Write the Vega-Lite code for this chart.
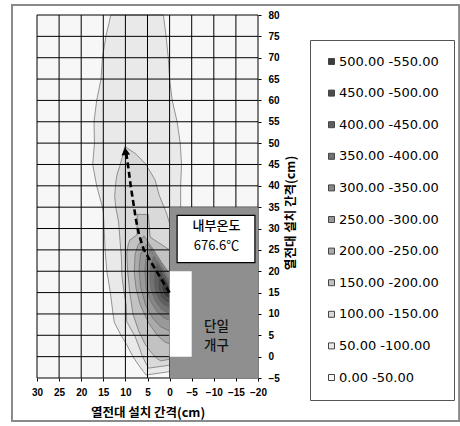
{
  "$schema": "https://vega.github.io/schema/vega-lite/v6.json",
  "width": 221,
  "height": 363,
  "autosize": {"type": "none"},
  "padding": {"left": 37, "top": 15, "right": 202, "bottom": 48},
  "background": "white",
  "config": {
    "view": {"stroke": null, "fill": "#f7f7f7"},
    "font": "Liberation Sans"
  },
  "resolve": {"axis": {"x": "independent", "y": "independent"}},
  "datasets": {
    "contours": [
      {"band": "50.00 -100.00", "y": -4.3, "xl": 5.3, "xr": 5.3},
      {"band": "50.00 -100.00", "y": -3.5, "xl": 5.9, "xr": 0},
      {"band": "50.00 -100.00", "y": -3.4, "xl": 6.0, "xr": -1},
      {"band": "50.00 -100.00", "y": -2, "xl": 7.0, "xr": -1},
      {"band": "50.00 -100.00", "y": 0, "xl": 8.3, "xr": -1},
      {"band": "50.00 -100.00", "y": 3, "xl": 9.8, "xr": -1},
      {"band": "50.00 -100.00", "y": 5, "xl": 11.0, "xr": -1},
      {"band": "50.00 -100.00", "y": 8, "xl": 12.5, "xr": -1},
      {"band": "50.00 -100.00", "y": 10, "xl": 12.8, "xr": -1},
      {"band": "50.00 -100.00", "y": 15, "xl": 13.4, "xr": -1},
      {"band": "50.00 -100.00", "y": 20, "xl": 14.2, "xr": -1},
      {"band": "50.00 -100.00", "y": 25, "xl": 14.6, "xr": -1},
      {"band": "50.00 -100.00", "y": 30, "xl": 14.8, "xr": -1},
      {"band": "50.00 -100.00", "y": 34, "xl": 15.0, "xr": -1},
      {"band": "50.00 -100.00", "y": 35, "xl": 15.2, "xr": -2.5},
      {"band": "50.00 -100.00", "y": 40, "xl": 16.5, "xr": -2.5},
      {"band": "50.00 -100.00", "y": 45, "xl": 17.4, "xr": -2.7},
      {"band": "50.00 -100.00", "y": 50, "xl": 17.0, "xr": -2.4},
      {"band": "50.00 -100.00", "y": 55, "xl": 17.1, "xr": -1.7},
      {"band": "50.00 -100.00", "y": 60, "xl": 16.5, "xr": -0.6},
      {"band": "50.00 -100.00", "y": 65, "xl": 15.5, "xr": 0},
      {"band": "50.00 -100.00", "y": 70, "xl": 15.2, "xr": 0.3},
      {"band": "50.00 -100.00", "y": 75, "xl": 14.4, "xr": 0.8},
      {"band": "50.00 -100.00", "y": 80, "xl": 13.3, "xr": 1.4},

      {"band": "100.00 -150.00", "y": -2.7, "xl": 4.8, "xr": 4.8},
      {"band": "100.00 -150.00", "y": -2.0, "xl": 5.1, "xr": 0},
      {"band": "100.00 -150.00", "y": -1.9, "xl": 5.2, "xr": -1},
      {"band": "100.00 -150.00", "y": 0.4, "xl": 6.3, "xr": -1},
      {"band": "100.00 -150.00", "y": 2, "xl": 6.8, "xr": -1},
      {"band": "100.00 -150.00", "y": 4.7, "xl": 7.8, "xr": -1},
      {"band": "100.00 -150.00", "y": 8.2, "xl": 9.7, "xr": -1},
      {"band": "100.00 -150.00", "y": 12, "xl": 9.8, "xr": -1},
      {"band": "100.00 -150.00", "y": 15, "xl": 10.3, "xr": -1},
      {"band": "100.00 -150.00", "y": 19, "xl": 10.8, "xr": -1},
      {"band": "100.00 -150.00", "y": 23, "xl": 10.9, "xr": -1},
      {"band": "100.00 -150.00", "y": 27, "xl": 11.2, "xr": -1},
      {"band": "100.00 -150.00", "y": 31, "xl": 11.5, "xr": -1},
      {"band": "100.00 -150.00", "y": 31.2, "xl": 11.5, "xr": 0},
      {"band": "100.00 -150.00", "y": 33.6, "xl": 11.9, "xr": 0.7},
      {"band": "100.00 -150.00", "y": 35, "xl": 12.2, "xr": 1.25},
      {"band": "100.00 -150.00", "y": 37.4, "xl": 12.4, "xr": 2.2},
      {"band": "100.00 -150.00", "y": 38, "xl": 12.4, "xr": 2.4},
      {"band": "100.00 -150.00", "y": 41.4, "xl": 12.1, "xr": 3.3},
      {"band": "100.00 -150.00", "y": 43, "xl": 11.8, "xr": 4.2},
      {"band": "100.00 -150.00", "y": 44.5, "xl": 11.3, "xr": 5.1},
      {"band": "100.00 -150.00", "y": 45.3, "xl": 11.1, "xr": 5.6},
      {"band": "100.00 -150.00", "y": 47, "xl": 10.6, "xr": 7.2},
      {"band": "100.00 -150.00", "y": 47.6, "xl": 10.5, "xr": 7.8},
      {"band": "100.00 -150.00", "y": 49.2, "xl": 10.1, "xr": 10.1},

      {"band": "150.00 -200.00", "y": -1, "xl": 2.0, "xr": 2.0},
      {"band": "150.00 -200.00", "y": -0.6, "xl": 2.6, "xr": 0},
      {"band": "150.00 -200.00", "y": -0.5, "xl": 2.8, "xr": -1},
      {"band": "150.00 -200.00", "y": 1, "xl": 4.2, "xr": -1},
      {"band": "150.00 -200.00", "y": 3, "xl": 5.6, "xr": -1},
      {"band": "150.00 -200.00", "y": 6, "xl": 7.0, "xr": -1},
      {"band": "150.00 -200.00", "y": 10, "xl": 8.3, "xr": -1},
      {"band": "150.00 -200.00", "y": 15, "xl": 9.0, "xr": -1},
      {"band": "150.00 -200.00", "y": 20, "xl": 9.5, "xr": -1},
      {"band": "150.00 -200.00", "y": 24.2, "xl": 9.7, "xr": -1},
      {"band": "150.00 -200.00", "y": 24.8, "xl": 9.6, "xr": -1},
      {"band": "150.00 -200.00", "y": 25, "xl": 9.6, "xr": 0},
      {"band": "150.00 -200.00", "y": 26.5, "xl": 9.3, "xr": 2.2},
      {"band": "150.00 -200.00", "y": 27.3, "xl": 9.0, "xr": 3.4},
      {"band": "150.00 -200.00", "y": 28, "xl": 8.1, "xr": 4.4},
      {"band": "150.00 -200.00", "y": 28.5, "xl": 7.4, "xr": 4.45},
      {"band": "150.00 -200.00", "y": 33.3, "xl": 7.3, "xr": 4.8},

      {"band": "200.00 -250.00", "y": 3, "xl": 0, "xr": -1},
      {"band": "200.00 -250.00", "y": 3.5, "xl": 1.2, "xr": -1},
      {"band": "200.00 -250.00", "y": 5, "xl": 2.8, "xr": -1},
      {"band": "200.00 -250.00", "y": 8, "xl": 4.8, "xr": -1},
      {"band": "200.00 -250.00", "y": 12, "xl": 6.6, "xr": -1},
      {"band": "200.00 -250.00", "y": 16, "xl": 7.6, "xr": -1},
      {"band": "200.00 -250.00", "y": 19.3, "xl": 7.95, "xr": -1},
      {"band": "200.00 -250.00", "y": 19.5, "xl": 7.95, "xr": 0},
      {"band": "200.00 -250.00", "y": 20, "xl": 8.0, "xr": 0.35},
      {"band": "200.00 -250.00", "y": 22, "xl": 7.9, "xr": 1.8},
      {"band": "200.00 -250.00", "y": 24, "xl": 7.8, "xr": 3.0},
      {"band": "200.00 -250.00", "y": 25, "xl": 7.5, "xr": 3.6},
      {"band": "200.00 -250.00", "y": 26, "xl": 7.2, "xr": 4.3},
      {"band": "200.00 -250.00", "y": 28.3, "xl": 5.8, "xr": 5.8},

      {"band": "250.00 -300.00", "y": 6, "xl": 0, "xr": -1},
      {"band": "250.00 -300.00", "y": 7, "xl": 2.0, "xr": -1},
      {"band": "250.00 -300.00", "y": 9, "xl": 3.8, "xr": -1},
      {"band": "250.00 -300.00", "y": 12, "xl": 5.4, "xr": -1},
      {"band": "250.00 -300.00", "y": 16, "xl": 6.5, "xr": -1},
      {"band": "250.00 -300.00", "y": 18.8, "xl": 6.8, "xr": -1},
      {"band": "250.00 -300.00", "y": 19, "xl": 6.8, "xr": 0},
      {"band": "250.00 -300.00", "y": 20, "xl": 6.9, "xr": 0.6},
      {"band": "250.00 -300.00", "y": 21, "xl": 6.85, "xr": 1.2},
      {"band": "250.00 -300.00", "y": 23.5, "xl": 6.65, "xr": 2.8},
      {"band": "250.00 -300.00", "y": 24, "xl": 6.6, "xr": 3.2},
      {"band": "250.00 -300.00", "y": 26.5, "xl": 5.0, "xr": 5.0},

      {"band": "300.00 -350.00", "y": 8.5, "xl": 0, "xr": -1},
      {"band": "300.00 -350.00", "y": 9, "xl": 1.2, "xr": -1},
      {"band": "300.00 -350.00", "y": 10.5, "xl": 2.8, "xr": -1},
      {"band": "300.00 -350.00", "y": 13, "xl": 4.3, "xr": -1},
      {"band": "300.00 -350.00", "y": 16, "xl": 5.3, "xr": -1},
      {"band": "300.00 -350.00", "y": 18.1, "xl": 5.45, "xr": -1},
      {"band": "300.00 -350.00", "y": 18.3, "xl": 5.45, "xr": 0},
      {"band": "300.00 -350.00", "y": 20, "xl": 5.6, "xr": 1.0},
      {"band": "300.00 -350.00", "y": 22, "xl": 5.45, "xr": 2.2},
      {"band": "300.00 -350.00", "y": 23, "xl": 5.3, "xr": 2.9},
      {"band": "300.00 -350.00", "y": 25, "xl": 4.3, "xr": 4.3},

      {"band": "350.00 -400.00", "y": 10, "xl": 0, "xr": -1},
      {"band": "350.00 -400.00", "y": 11, "xl": 1.8, "xr": -1},
      {"band": "350.00 -400.00", "y": 13, "xl": 3.2, "xr": -1},
      {"band": "350.00 -400.00", "y": 15.5, "xl": 4.2, "xr": -1},
      {"band": "350.00 -400.00", "y": 17.6, "xl": 4.4, "xr": -1},
      {"band": "350.00 -400.00", "y": 17.8, "xl": 4.4, "xr": 0},
      {"band": "350.00 -400.00", "y": 18.5, "xl": 4.5, "xr": 0.45},
      {"band": "350.00 -400.00", "y": 19, "xl": 4.45, "xr": 0.8},
      {"band": "350.00 -400.00", "y": 21, "xl": 4.35, "xr": 1.9},
      {"band": "350.00 -400.00", "y": 21.5, "xl": 4.3, "xr": 2.24},
      {"band": "350.00 -400.00", "y": 23.5, "xl": 3.6, "xr": 3.6},

      {"band": "400.00 -450.00", "y": 11.5, "xl": 0, "xr": -1},
      {"band": "400.00 -450.00", "y": 11.8, "xl": 1.0, "xr": -1},
      {"band": "400.00 -450.00", "y": 13, "xl": 2.2, "xr": -1},
      {"band": "400.00 -450.00", "y": 15, "xl": 3.2, "xr": -1},
      {"band": "400.00 -450.00", "y": 17.1, "xl": 3.5, "xr": -1},
      {"band": "400.00 -450.00", "y": 17.3, "xl": 3.5, "xr": 0},
      {"band": "400.00 -450.00", "y": 17.5, "xl": 3.5, "xr": 0.1},
      {"band": "400.00 -450.00", "y": 20, "xl": 3.4, "xr": 1.5},
      {"band": "400.00 -450.00", "y": 22, "xl": 2.9, "xr": 2.9},

      {"band": "450.00 -500.00", "y": 12.5, "xl": 0, "xr": -1},
      {"band": "450.00 -500.00", "y": 12.8, "xl": 0.8, "xr": -1},
      {"band": "450.00 -500.00", "y": 14, "xl": 2.0, "xr": -1},
      {"band": "450.00 -500.00", "y": 16, "xl": 2.6, "xr": -1},
      {"band": "450.00 -500.00", "y": 16.6, "xl": 2.6, "xr": -1},
      {"band": "450.00 -500.00", "y": 16.8, "xl": 2.6, "xr": 0},
      {"band": "450.00 -500.00", "y": 18.5, "xl": 2.6, "xr": 1.0},
      {"band": "450.00 -500.00", "y": 20.5, "xl": 2.2, "xr": 2.2},

      {"band": "500.00 -550.00", "y": 13.5, "xl": 0, "xr": -1},
      {"band": "500.00 -550.00", "y": 14, "xl": 1.0, "xr": -1},
      {"band": "500.00 -550.00", "y": 15.5, "xl": 1.7, "xr": -1},
      {"band": "500.00 -550.00", "y": 16, "xl": 1.75, "xr": -1},
      {"band": "500.00 -550.00", "y": 16.2, "xl": 1.75, "xr": 0},
      {"band": "500.00 -550.00", "y": 17.5, "xl": 1.8, "xr": 0.6},
      {"band": "500.00 -550.00", "y": 19, "xl": 1.5, "xr": 1.5}
    ],
    "gridX": [{"gx": 30}, {"gx": 25}, {"gx": 20}, {"gx": 15}, {"gx": 10}, {"gx": 5}, {"gx": 0}, {"gx": -5}, {"gx": -10}, {"gx": -15}, {"gx": -20}],
    "gridY": [{"gy": -5}, {"gy": 0}, {"gy": 5}, {"gy": 10}, {"gy": 15}, {"gy": 20}, {"gy": 25}, {"gy": 30}, {"gy": 35}, {"gy": 40}, {"gy": 45}, {"gy": 50}, {"gy": 55}, {"gy": 60}, {"gy": 65}, {"gy": 70}, {"gy": 75}, {"gy": 80}],
    "path": [
      {"i": 0, "px": 0, "py": 15},
      {"i": 1, "px": 1.4, "py": 17.3},
      {"i": 2, "px": 2.9, "py": 19.9},
      {"i": 3, "px": 4.4, "py": 22.5},
      {"i": 4, "px": 5.9, "py": 25.2},
      {"i": 5, "px": 6.9, "py": 28.5},
      {"i": 6, "px": 7.6, "py": 32},
      {"i": 7, "px": 8.2, "py": 36},
      {"i": 8, "px": 8.8, "py": 40},
      {"i": 9, "px": 9.3, "py": 44},
      {"i": 10, "px": 9.8, "py": 47.6}
    ]
  },
  "layer": [
    {
      "data": {"name": "contours"},
      "mark": {"type": "area", "orient": "horizontal", "stroke": "#6a6a6a", "strokeWidth": 0.7, "opacity": 1},
      "encoding": {
        "y": {
          "field": "y", "type": "quantitative",
          "scale": {"domain": [-5, 80], "nice": false, "zero": false},
          "axis": {
            "orient": "right", "values": [-5, 0, 5, 10, 15, 20, 25, 30, 35, 40, 45, 50, 55, 60, 65, 70, 75, 80],
            "labelOverlap": false, "labelFlush": false,
            "grid": false, "domain": false, "ticks": true, "tickSize": 3, "tickColor": "#000",
            "labelFont": "Liberation Sans", "labelFontWeight": "bold", "labelFontSize": 10, "labelColor": "#000",
            "labelPadding": 7, "labelAlign": "left", "labelBaseline": "middle",
            "title": "열전대 설치 간격(cm)", "titleFont": "Noto Sans CJK KR", "titleFontSize": 12.5, "titleFontWeight": "bold",
            "titleColor": "#000", "titleAngle": -90, "titleX": 32, "titleY": 197.5, "titleAlign": "center", "titleBaseline": "middle"
          }
        },
        "x": {
          "field": "xl", "type": "quantitative", "stack": null,
          "scale": {"domain": [-20, 30], "reverse": true, "nice": false, "zero": false},
          "axis": {
            "orient": "bottom", "values": [30, 25, 20, 15, 10, 5, 0, -5, -10, -15, -20],
            "labelOverlap": false, "labelFlush": false,
            "grid": false, "domain": false, "ticks": true, "tickSize": 3, "tickColor": "#000",
            "labelFont": "Liberation Sans", "labelFontWeight": "bold", "labelFontSize": 10, "labelColor": "#000",
            "labelPadding": 6,
            "title": "열전대 설치 간격(cm)", "titleFont": "Noto Sans CJK KR", "titleFontSize": 12.5, "titleFontWeight": "bold",
            "titleColor": "#000", "titleY": 34, "titleBaseline": "middle"
          }
        },
        "x2": {"field": "xr"},
        "color": {
          "field": "band", "type": "nominal",
          "scale": {
            "domain": ["500.00 -550.00", "450.00 -500.00", "400.00 -450.00", "350.00 -400.00", "300.00 -350.00", "250.00 -300.00", "200.00 -250.00", "150.00 -200.00", "100.00 -150.00", "50.00 -100.00", "0.00 -50.00"],
            "range": ["#3c3c3c", "#4c4c4c", "#5e5e5e", "#727272", "#868686", "#999999", "#ababab", "#c2c2c2", "#d9d9d9", "#e9e9e9", "#f7f7f7"]
          },
          "legend": {
            "title": null, "orient": "none", "legendX": 273, "legendY": 25,
            "strokeColor": "#555", "fillColor": "white", "padding": 15,
            "symbolType": "square", "symbolSize": 36, "symbolStrokeColor": "#444", "symbolStrokeWidth": 1,
            "labelFont": "DejaVu Sans", "labelFontSize": 13, "labelColor": "#000", "labelOffset": 1,
            "rowPadding": 17.6, "labelLimit": 200
          }
        }
      }
    },
    {
      "data": {"name": "gridX"},
      "mark": {"type": "rule", "color": "#000", "strokeWidth": 1},
      "encoding": {"x": {"field": "gx", "type": "quantitative", "axis": null}}
    },
    {
      "data": {"name": "gridY"},
      "mark": {"type": "rule", "color": "#000", "strokeWidth": 1},
      "encoding": {"y": {"field": "gy", "type": "quantitative", "axis": null}}
    },
    {
      "data": {"values": [{}]},
      "mark": {"type": "rect", "fill": "#8f8f8f"},
      "encoding": {"x": {"datum": 0, "type": "quantitative", "axis": null}, "x2": {"datum": -20}, "y": {"datum": -5, "type": "quantitative", "axis": null}, "y2": {"datum": 35}}
    },
    {
      "data": {"values": [{}]},
      "mark": {"type": "rect", "fill": "white"},
      "encoding": {"x": {"datum": 0, "type": "quantitative", "axis": null}, "x2": {"datum": -5}, "y": {"datum": 0, "type": "quantitative", "axis": null}, "y2": {"datum": 20}}
    },
    {
      "data": {"values": [{}]},
      "mark": {"type": "rect", "fill": "white", "stroke": "#000", "strokeWidth": 1.2},
      "encoding": {"x": {"datum": -1.7, "type": "quantitative", "axis": null}, "x2": {"datum": -19.3}, "y": {"datum": 22, "type": "quantitative", "axis": null}, "y2": {"datum": 33.1}}
    },
    {
      "data": {"values": [{}]},
      "mark": {"type": "text", "font": "Noto Sans CJK KR", "fontSize": 13, "fontWeight": 500, "color": "#000", "align": "center", "baseline": "middle"},
      "encoding": {"x": {"datum": -10.6, "type": "quantitative", "axis": null}, "y": {"datum": 30.7, "type": "quantitative", "axis": null}, "text": {"value": "내부온도"}}
    },
    {
      "data": {"values": [{}]},
      "mark": {"type": "text", "font": "Noto Sans CJK KR", "fontSize": 13, "color": "#000", "align": "center", "baseline": "middle"},
      "encoding": {"x": {"datum": -10.6, "type": "quantitative", "axis": null}, "y": {"datum": 25.9, "type": "quantitative", "axis": null}, "text": {"value": "676.6℃"}}
    },
    {
      "data": {"values": [{}]},
      "mark": {"type": "text", "font": "Noto Sans CJK KR", "fontSize": 13.5, "fontWeight": 500, "color": "#111", "align": "center", "baseline": "middle"},
      "encoding": {"x": {"datum": -10.6, "type": "quantitative", "axis": null}, "y": {"datum": 7.0, "type": "quantitative", "axis": null}, "text": {"value": "단일"}}
    },
    {
      "data": {"values": [{}]},
      "mark": {"type": "text", "font": "Noto Sans CJK KR", "fontSize": 13.5, "fontWeight": 500, "color": "#111", "align": "center", "baseline": "middle"},
      "encoding": {"x": {"datum": -10.6, "type": "quantitative", "axis": null}, "y": {"datum": 2.5, "type": "quantitative", "axis": null}, "text": {"value": "개구"}}
    },
    {
      "data": {"name": "path"},
      "mark": {"type": "line", "color": "#000", "strokeWidth": 2.6, "strokeDash": [6, 3.5]},
      "encoding": {"x": {"field": "px", "type": "quantitative", "axis": null}, "y": {"field": "py", "type": "quantitative", "axis": null}, "order": {"field": "i", "type": "quantitative"}}
    },
    {
      "data": {"values": [{}]},
      "mark": {"type": "point", "shape": "triangle-up", "filled": true, "color": "#000", "size": 75, "angle": -7, "opacity": 1},
      "encoding": {"x": {"datum": 10.0, "type": "quantitative", "axis": null}, "y": {"datum": 48.1, "type": "quantitative", "axis": null}}
    },
    {
      "data": {"values": [{}]},
      "mark": {"type": "rect", "fillOpacity": 0, "stroke": "#8a8a8a", "strokeWidth": 2},
      "encoding": {"x": {"datum": 35.66, "type": "quantitative", "axis": null}, "x2": {"datum": -65.5}, "y": {"datum": 82.34, "type": "quantitative", "axis": null}, "y2": {"datum": -15.07}}
    }
  ]
}
